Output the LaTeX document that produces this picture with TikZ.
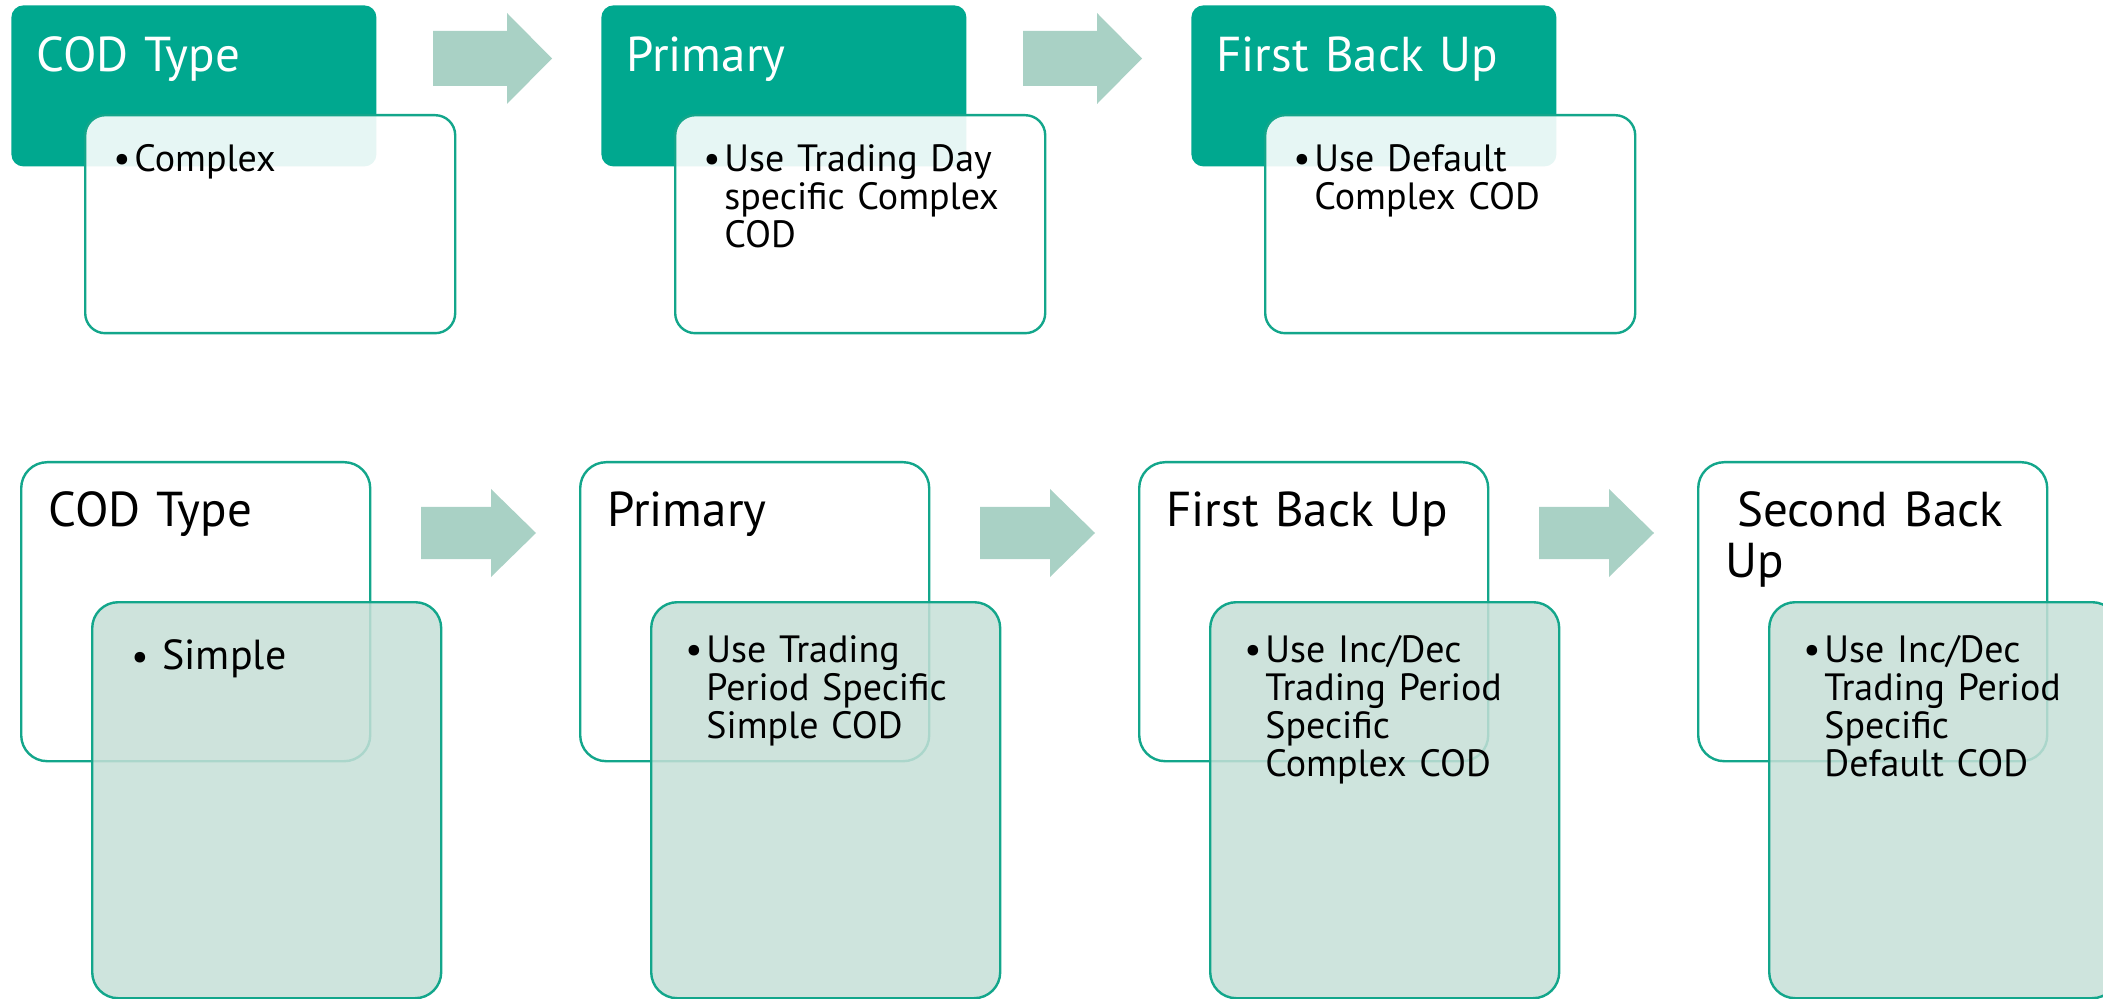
\documentclass[tikz,border=0pt]{standalone}
\usepackage{fontspec}
\setmainfont{PT Sans}
\usepackage{tikz}
\usetikzlibrary{positioning,calc}
\definecolor{codteal}{HTML}{00A88F}
\definecolor{codline}{HTML}{13A68B}
\definecolor{codarrow}{HTML}{A9D1C5}
\definecolor{codmint}{HTML}{C6DFD7}
\tikzset{
  hdr/.style      = {rectangle, fill=codteal, rounded corners=6pt, anchor=north west,
                     inner sep=0pt, minimum width=182.5pt, minimum height=80.5pt},
  tbody/.style    = {rectangle, draw=codline, fill=white, fill opacity=0.9,
                     line width=1.2pt, rounded corners=10pt, anchor=north west,
                     inner sep=0pt, minimum width=185pt, minimum height=109pt},
  bouter/.style   = {rectangle, draw=codline, fill=white, line width=1.2pt,
                     rounded corners=13pt, anchor=north west, inner sep=0pt,
                     minimum width=174.5pt, minimum height=149.5pt},
  binner/.style   = {bouter, fill=codmint, fill opacity=0.85, minimum height=198pt},
  htxt/.style     = {anchor=base west, inner sep=0pt, text width=170pt, align=left,
                     font=\fontsize{24.5}{25}\selectfont},
  hwhite/.style   = {htxt, text=white},
  btxt/.style     = {anchor=base west, inner sep=0pt, text width=150pt, align=left,
                     font=\fontsize{19}{19}\selectfont},
  blt/.style      = {anchor=base west, inner sep=0pt, font=\fontsize{19}{19}\selectfont},
  bigtxt/.style   = {btxt, font=\fontsize{21}{21}\selectfont},
  blockarr/.style = {fill=codarrow},
}

\begin{document}
\begin{tikzpicture}[x=0.5pt,y=-0.5pt]
  \useasboundingbox (0,0) rectangle (2103,999);
  \clip (0,0) rectangle (2103,999);

  % top row: complex COD
  \node[hdr]   (hd1) at (11,5)    {};
  \node[tbody] (tb1) at (84,114)  {};
  \node[hdr]   (hd2) at (601,5)   {};
  \node[tbody] (tb2) at (674,114) {};
  \node[hdr]   (hd3) at (1191,5)  {};
  \node[tbody] (tb3) at (1264,114) {};

  \fill[blockarr] (433,31) -- (507,31) -- (507,13) -- (552,58.5)
                  -- (507,104) -- (507,86) -- (433,86) -- cycle;
  \fill[blockarr] (1023,31) -- (1097,31) -- (1097,13) -- (1142,58.5)
                  -- (1097,104) -- (1097,86) -- (1023,86) -- cycle;

  \node[hwhite] (hd1t) at (36,72)   {COD Type};
  \node[hwhite] (hd2t) at (626,72)  {Primary};
  \node[hwhite] (hd3t) at (1216,72) {First Back Up};

  \node[blt]  (tb1b) at (113,172)  {\textbullet};
  \node[btxt] (tb1t) at (134,172)  {Complex};
  \node[blt]  (tb2b) at (703,172)  {\textbullet};
  \node[btxt] (tb2t) at (724,172)  {Use Trading Day\\specific Complex\\COD};
  \node[blt]  (tb3b) at (1293,172) {\textbullet};
  \node[btxt] (tb3t) at (1314,172) {Use Default\\Complex COD};

  % bottom row: simple COD
  \node[bouter] (bo1) at (20,461)   {};
  \node[binner] (bi1) at (91,601)   {};
  \node[bouter] (bo2) at (579,461)  {};
  \node[binner] (bi2) at (650,601)  {};
  \node[bouter] (bo3) at (1138,461) {};
  \node[binner] (bi3) at (1209,601) {};
  \node[bouter] (bo4) at (1697,461) {};
  \node[binner] (bi4) at (1768,601) {};

  \fill[blockarr] (421,507) -- (491,507) -- (491,489) -- (536,533)
                  -- (491,577) -- (491,559) -- (421,559) -- cycle;
  \fill[blockarr] (980,507) -- (1050,507) -- (1050,489) -- (1095,533)
                  -- (1050,577) -- (1050,559) -- (980,559) -- cycle;
  \fill[blockarr] (1539,507) -- (1609,507) -- (1609,489) -- (1654,533)
                  -- (1609,577) -- (1609,559) -- (1539,559) -- cycle;

  \node[htxt] (bo1t) at (48,527)   {COD Type};
  \node[htxt] (bo2t) at (607,527)  {Primary};
  \node[htxt] (bo3t) at (1166,527) {First Back Up};
  \node[htxt] (bo4t) at (1725,527) {\hspace*{6pt}Second Back\\Up};

  \node[blt]    (bi1b) at (131,669)  {\textbullet};
  \node[bigtxt] (bi1t) at (162,669)  {Simple};
  \node[blt]    (bi2b) at (685,662)  {\textbullet};
  \node[btxt]   (bi2t) at (706,662)  {Use Trading\\Period Specific\\Simple COD};
  \node[blt]    (bi3b) at (1244,662) {\textbullet};
  \node[btxt]   (bi3t) at (1265,662) {Use Inc/Dec\\Trading Period\\Specific\\Complex COD};
  \node[blt]    (bi4b) at (1803,662) {\textbullet};
  \node[btxt]   (bi4t) at (1824,662) {Use Inc/Dec\\Trading Period\\Specific\\Default COD};
\end{tikzpicture}
\end{document}
